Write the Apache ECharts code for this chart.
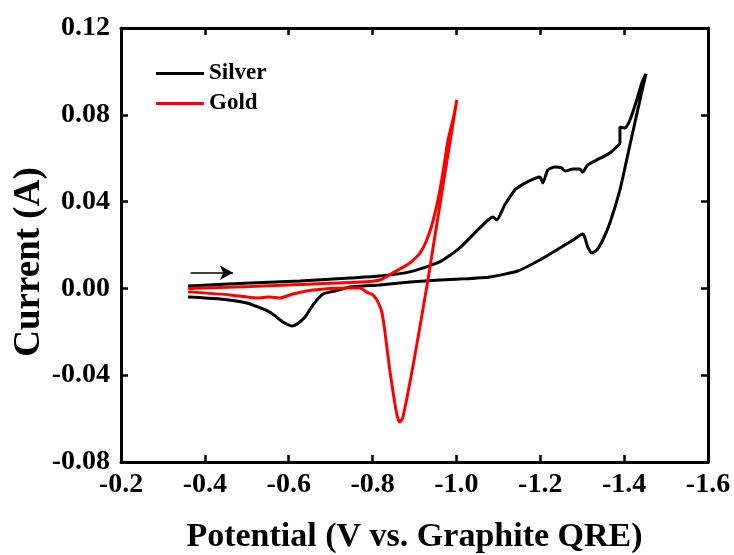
<!DOCTYPE html>
<html>
<head>
<meta charset="utf-8">
<script src="https://cdn.jsdelivr.net/npm/echarts@6/dist/echarts.min.js"></script>
<style>
  html, body { margin: 0; padding: 0; background: #fff; }
  #chart { width: 734px; height: 555px; }
</style>
</head>
<body>
<div id="chart"></div>
<script>
// potential (V) and current (A), in scan order
const silverPotential = [
  -0.360, -0.430, -0.508, -0.627, -0.746, -0.817, -0.889, -0.960, -1.008, -1.056,
  -1.087, -1.096, -1.115, -1.139, -1.144, -1.168, -1.199, -1.206, -1.218, -1.235,
  -1.251, -1.259, -1.278, -1.294, -1.301, -1.313, -1.335, -1.366, -1.382, -1.390,
  -1.390, -1.402, -1.414, -1.430, -1.442, -1.452,
  -1.428, -1.406, -1.390, -1.366, -1.349, -1.335, -1.323, -1.313, -1.306, -1.301,
  -1.278, -1.239, -1.199, -1.146, -1.080, -1.008, -0.960, -0.889, -0.817, -0.746,
  -0.710, -0.682, -0.658, -0.639, -0.620, -0.608, -0.586, -0.555, -0.500, -0.436, -0.360
]
const silverCurrent = [
  0.0011, 0.0018, 0.0025, 0.0034, 0.0048, 0.0057, 0.0076, 0.0122, 0.0187, 0.0279,
  0.0329, 0.0315, 0.0384, 0.0453, 0.0462, 0.0490, 0.0513, 0.0486, 0.0546, 0.0559,
  0.0555, 0.0541, 0.0550, 0.0550, 0.0536, 0.0569, 0.0592, 0.0624, 0.0652, 0.0670,
  0.0744, 0.0739, 0.0776, 0.0868, 0.0946, 0.0988,
  0.0785, 0.0592, 0.0454, 0.0301, 0.0223, 0.0177, 0.0163, 0.0191, 0.0237, 0.0251,
  0.0223, 0.0177, 0.0131, 0.0080, 0.0053, 0.0043, 0.0039, 0.0029, 0.0016, 0.0006,
  -0.0012, -0.0026, -0.0076, -0.0132, -0.0164, -0.0173, -0.0155, -0.0109, -0.0067, -0.0049, -0.0040
]
const goldPotential = [
  -0.360, -0.460, -0.524, -0.555, -0.579, -0.610, -0.658, -0.739, -0.770, -0.786,
  -0.801, -0.813, -0.822, -0.829, -0.841, -0.853, -0.860, -0.865, -0.872, -0.899,
  -0.932, -0.970, -1.001,
  -0.994, -0.980, -0.965, -0.949, -0.932, -0.913, -0.889, -0.848, -0.817, -0.770,
  -0.627, -0.508, -0.360
]
const goldCurrent = [
  -0.0016, -0.0030, -0.0044, -0.0040, -0.0044, -0.0026, -0.0007, 0.0002, 0.0002, -0.0017,
  -0.0030, -0.0063, -0.0109, -0.0192, -0.0376, -0.0528, -0.0597, -0.0616, -0.0597, -0.0330,
  0.0039, 0.0500, 0.0869,
  0.0798, 0.0684, 0.0500, 0.0348, 0.0237, 0.0163, 0.0117, 0.0071, 0.0039, 0.0029,
  0.0018, 0.0009, 0.0000
]
// scan direction arrow: from / to potential, at this current
const arrowPotential = [-0.366, -0.467]
const arrowCurrent = 0.0072

const FONT = 'Liberation Serif'
const zip = (xs, ys) => xs.map((x, i) => [x, ys[i]])

const axisLineStyle = { color: '#000', width: 3 }
const tickStyle = { show: true, inside: true, length: 7, lineStyle: { color: '#000', width: 2.5 } }
const labelStyle = { color: '#000', fontFamily: FONT, fontWeight: 'bold', fontSize: 28 }
const nameStyle = { color: '#000', fontFamily: FONT, fontWeight: 'bold', fontSize: 34 }

const xBase = { type: 'value', inverse: true, min: -1.6, max: -0.2, interval: 0.2, splitLine: { show: false } }
const yBase = { type: 'value', min: -0.08, max: 0.12, interval: 0.04, splitLine: { show: false } }

const chart = echarts.init(document.getElementById('chart'))
chart.setOption({
  animation: false,
  backgroundColor: '#fff',
  grid: { left: 121, right: 26, top: 28, bottom: 93, outerBoundsMode: 'none', containLabel: false },
  legend: {
    data: ['Silver', 'Gold'],
    orient: 'vertical',
    left: 151,
    top: 57,
    icon: 'rect',
    itemWidth: 48,
    itemHeight: 3,
    itemGap: 7,
    textStyle: { color: '#000', fontFamily: FONT, fontWeight: 'bold', fontSize: 23 },
  },
  xAxis: [
    {
      ...xBase,
      position: 'bottom',
      name: 'Potential (V vs. Graphite QRE)',
      nameLocation: 'middle',
      nameGap: 58,
      nameMoveOverlap: false,
      nameTextStyle: nameStyle,
      axisLine: { onZero: false, lineStyle: axisLineStyle },
      axisTick: tickStyle,
      axisLabel: { ...labelStyle, margin: 9, formatter: (v) => v.toFixed(1) },
    },
    {
      ...xBase,
      position: 'top',
      axisLine: { onZero: false, lineStyle: axisLineStyle },
      axisTick: tickStyle,
      axisLabel: { show: false },
    },
  ],
  yAxis: [
    {
      ...yBase,
      position: 'left',
      name: 'Current (A)',
      nameLocation: 'middle',
      nameGap: 73,
      nameMoveOverlap: false,
      nameTextStyle: { ...nameStyle, fontSize: 37, padding: [0, 34, 0, 0] },
      axisLine: { onZero: false, lineStyle: axisLineStyle },
      axisTick: tickStyle,
      axisLabel: {
        ...labelStyle,
        margin: 11,
        formatter: (v) => (Math.abs(v) < 1e-9 ? '0.00' : v.toFixed(2)),
      },
    },
    {
      ...yBase,
      position: 'right',
      axisLine: { onZero: false, lineStyle: axisLineStyle },
      axisTick: tickStyle,
      axisLabel: { show: false },
    },
  ],
  series: [
    {
      name: 'Silver',
      type: 'line',
      data: zip(silverPotential, silverCurrent),
      symbol: 'none',
      smooth: 0.2,
      color: '#000',
      lineStyle: { color: '#000', width: 3 },
      emphasis: { disabled: true },
      markLine: {
        silent: true,
        animation: false,
        label: { show: false },
        lineStyle: { color: '#000', width: 1.5, type: 'solid' },
        symbolSize: [11, 13],
        data: [[
          { coord: [arrowPotential[0], arrowCurrent], symbol: 'none' },
          { coord: [arrowPotential[1], arrowCurrent], symbol: 'arrow' },
        ]],
      },
    },
    {
      name: 'Gold',
      type: 'line',
      data: zip(goldPotential, goldCurrent),
      symbol: 'none',
      smooth: 0.2,
      color: '#ff0000',
      lineStyle: { color: '#ff0000', width: 3 },
      emphasis: { disabled: true },
    },
  ],
})
</script>
</body>
</html>
